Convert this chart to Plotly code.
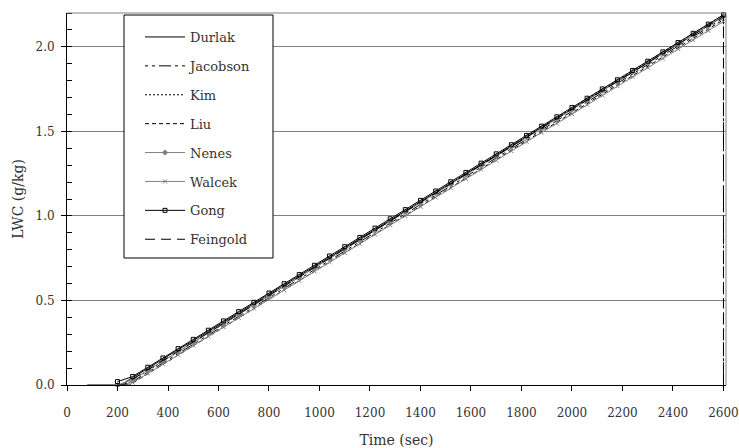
import plotly.graph_objects as go

# Liquid water content of an ascending parcel, eight activation schemes
# Simple (unmarked) schemes: breakpoints of each curve
durlak_t = [80, 212, 2600]
durlak_v = [0.0, 0.0, 2.18]

jacobson_t = [200, 238, 2600, 2600]
jacobson_v = [0.0, 0.0, 2.17, 0.0]

kim_t = [200, 228, 2600]
kim_v = [0.0, 0.0, 2.19]

liu_t = [210, 248, 2600]
liu_v = [0.0, 0.0, 2.16]

feingold_t = [200, 222, 2600, 2600]
feingold_v = [0.0, 0.0, 2.18, 0.0]

# Marked schemes, sampled every 60 s
sample_t = [200, 260, 320, 380, 440, 500, 560, 620, 680, 740, 800, 860, 920, 980,
            1040, 1100, 1160, 1220, 1280, 1340, 1400, 1460, 1520, 1580, 1640, 1700,
            1760, 1820, 1880, 1940, 2000, 2060, 2120, 2180, 2240, 2300, 2360, 2420,
            2480, 2540, 2600]

nenes_v = [0.000, 0.032, 0.087, 0.142, 0.197, 0.252, 0.308, 0.363, 0.418, 0.473,
           0.528, 0.583, 0.638, 0.693, 0.748, 0.803, 0.858, 0.913, 0.968, 1.024,
           1.079, 1.134, 1.189, 1.244, 1.299, 1.354, 1.409, 1.464, 1.519, 1.574,
           1.629, 1.685, 1.740, 1.795, 1.850, 1.905, 1.960, 2.015, 2.070, 2.125,
           2.180]

walcek_v = [0.000, 0.014, 0.068, 0.123, 0.178, 0.233, 0.288, 0.342, 0.397, 0.452,
            0.507, 0.561, 0.616, 0.671, 0.726, 0.781, 0.835, 0.890, 0.945, 1.000,
            1.054, 1.109, 1.164, 1.219, 1.274, 1.328, 1.383, 1.438, 1.493, 1.547,
            1.602, 1.657, 1.712, 1.767, 1.821, 1.876, 1.931, 1.986, 2.040, 2.095,
            2.150]

gong_v = [0.020, 0.050, 0.105, 0.160, 0.215, 0.270, 0.324, 0.379, 0.434, 0.489,
          0.544, 0.599, 0.653, 0.708, 0.763, 0.818, 0.873, 0.928, 0.983, 1.037,
          1.092, 1.147, 1.202, 1.257, 1.312, 1.367, 1.421, 1.476, 1.531, 1.586,
          1.641, 1.696, 1.751, 1.805, 1.860, 1.915, 1.970, 2.025, 2.080, 2.134,
          2.190]

x_ticks = list(range(0, 2601, 200))
y_ticks = [0.0, 0.5, 1.0, 1.5, 2.0]

FONT = "DejaVu Serif"
TEXT = "#333333"
GRAY = "#808080"

# plot area geometry (px) used to place the legend frame in paper units
W, H = 739, 448
ML, MR, MT, MB = 67, 13, 13, 63
PW, PH = W - ML - MR, H - MT - MB

def px_x(p):
    return (p - ML) / PW

def px_y(p):
    return (H - MB - p) / PH

fig = go.Figure()

def add(name, t, v, color="black", dash="solid", marker=None):
    kw = dict(x=t, y=v, name=name, legendgroup=name,
              line=dict(color=color, width=1, dash=dash), cliponaxis=False)
    if marker:
        kw["mode"] = "lines+markers"
        kw["marker"] = marker
    else:
        kw["mode"] = "lines"
    fig.add_trace(go.Scatter(**kw))

add("Durlak", durlak_t, durlak_v)
add("Jacobson", jacobson_t, jacobson_v, dash="3px,4px,3px,4px,12px,4px")
add("Kim", kim_t, kim_v, dash="2px,2px")
add("Liu", liu_t, liu_v, dash="4px,3px")
add("Nenes", sample_t, nenes_v, color=GRAY,
    marker=dict(symbol="diamond", size=4, color=GRAY, line=dict(color=GRAY, width=1)))
add("Walcek", sample_t, walcek_v, color=GRAY,
    marker=dict(symbol="x-thin", size=4, color=GRAY, line=dict(color=GRAY, width=1)))
add("Gong", sample_t, gong_v, color="black",
    marker=dict(symbol="square-open", size=4, color="black", line=dict(color="black", width=1)))
add("Feingold", feingold_t, feingold_v, dash="10px,6px")

fig.update_layout(
    width=W, height=H,
    margin=dict(l=ML, r=MR, t=MT, b=MB),
    paper_bgcolor="white", plot_bgcolor="white",
    font=dict(family=FONT, size=12, color=TEXT),
    showlegend=True,
    legend=dict(
        x=px_x(124), y=px_y(22), xanchor="left", yanchor="top",
        bgcolor="rgba(0,0,0,0)", borderwidth=0,
        tracegroupgap=9, traceorder="grouped", itemwidth=40, indentation=16,
        font=dict(family=FONT, size=13, color=TEXT),
    ),
    xaxis=dict(
        range=[0, 2610], tickvals=x_ticks, ticktext=[str(v) for v in x_ticks],
        showgrid=False, zeroline=False, automargin=False,
        showline=True, linecolor="black", linewidth=1,
        ticks="outside", ticklen=5, tickcolor="black",
        ticklabeloverflow="allow", ticklabelstandoff=12,
        title=dict(text="Time (sec)", standoff=22),
    ),
    yaxis=dict(
        range=[0, 2.2], tickvals=y_ticks, ticktext=[f"{v:.1f}" for v in y_ticks],
        showgrid=True, gridcolor=GRAY, gridwidth=1, zeroline=False, automargin=False,
        showline=True, linecolor="black", linewidth=1,
        ticks="outside", ticklen=5, tickcolor="black",
        ticklabelstandoff=4,
        minor=dict(dtick=0.1, ticks="inside", ticklen=5, tickcolor="black", showgrid=False),
        title=dict(text="LWC (g/kg)", standoff=8),
    ),
    shapes=[
        dict(type="line", xref="paper", yref="paper", x0=0, x1=1, y0=1, y1=1,
             line=dict(color=GRAY, width=1)),
        dict(type="line", xref="paper", yref="paper", x0=1, x1=1, y0=0, y1=1,
             line=dict(color=GRAY, width=1)),
        # legend frame
        dict(type="rect", xref="paper", yref="paper", layer="above",
             x0=px_x(124), x1=px_x(273), y0=px_y(258), y1=px_y(15),
             fillcolor="white", line=dict(color="black", width=1)),
    ],
)

fig.write_html("out.html")
